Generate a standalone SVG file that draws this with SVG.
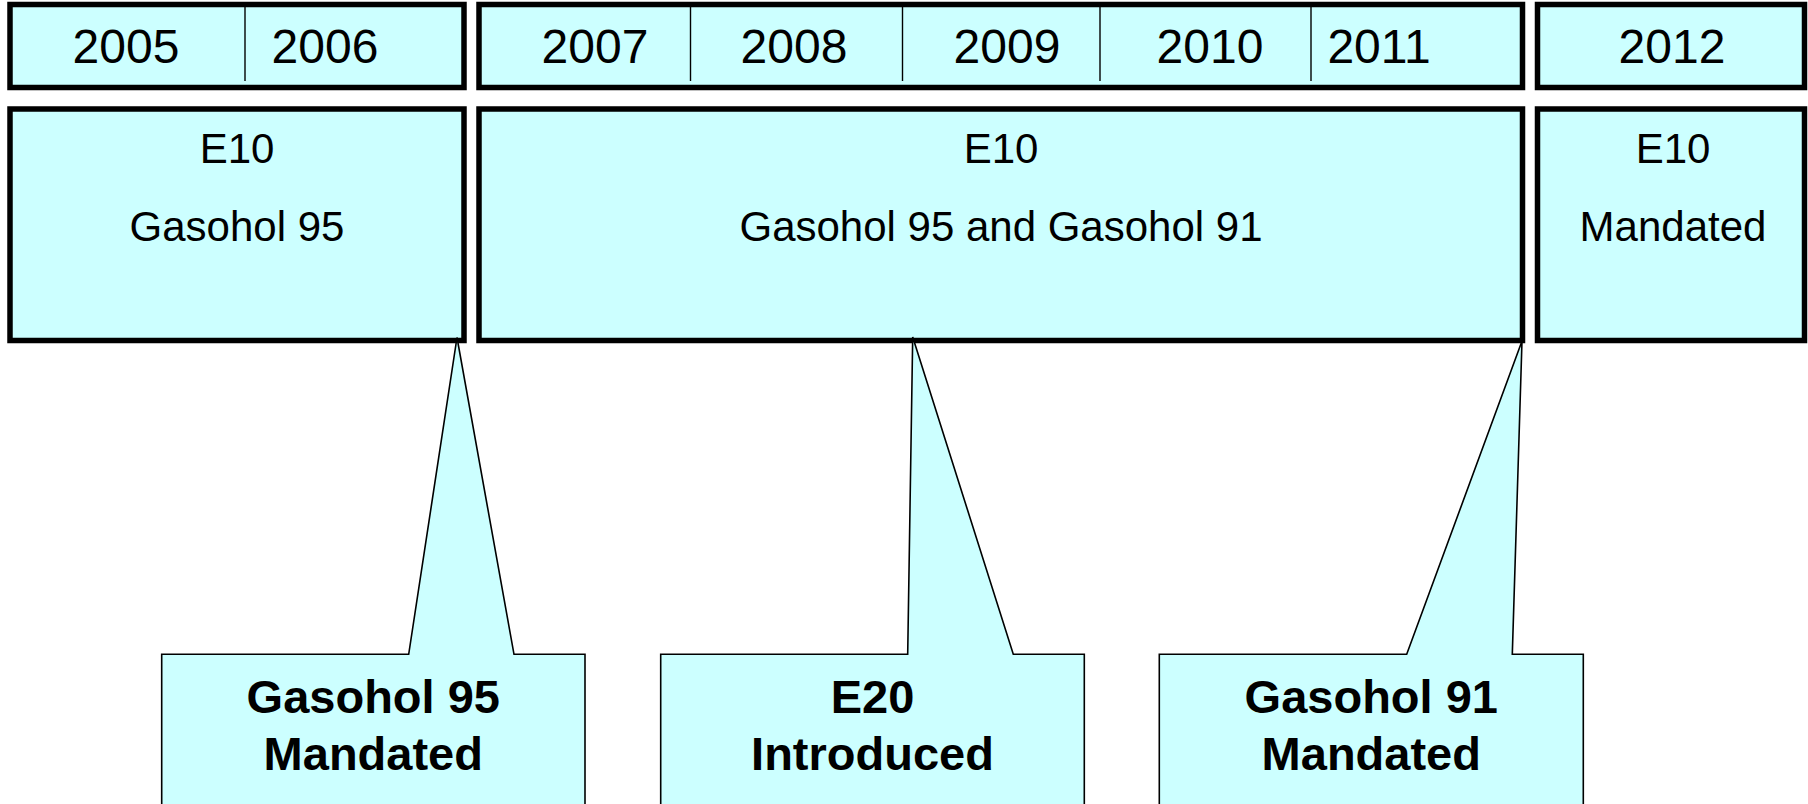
<svg xmlns="http://www.w3.org/2000/svg" width="1808" height="804" viewBox="0 0 1808 804">
<style>
.box{fill:#CCFFFF;stroke:#000;stroke-width:5.5}
.div{stroke:#000;stroke-width:1.4}
.call{fill:#CCFFFF;stroke:#000;stroke-width:1.6;stroke-linejoin:miter}
.yr{font-family:"Liberation Sans",Arial,sans-serif;font-size:48px;fill:#000}
.t{font-family:"Liberation Sans",Arial,sans-serif;font-size:42px;fill:#000;text-anchor:middle}
.b{font-family:"Liberation Sans",Arial,sans-serif;font-size:47px;font-weight:bold;fill:#000;text-anchor:middle}
</style>
<rect width="1808" height="804" fill="#fff"/>
<g id="years-2005-2006">
<rect class="box" x="10" y="4.5" width="454" height="83"/>
<line class="div" x1="245" y1="7" x2="245" y2="81"/>
<text class="yr" x="126" y="63" text-anchor="middle">2005</text>
<text class="yr" x="325" y="63" text-anchor="middle">2006</text>
</g>
<g id="years-2007-2011">
<rect class="box" x="479" y="4.5" width="1043.5" height="83"/>
<line class="div" x1="690.5" y1="7" x2="690.5" y2="81"/>
<line class="div" x1="902.5" y1="7" x2="902.5" y2="81"/>
<line class="div" x1="1100" y1="7" x2="1100" y2="81"/>
<line class="div" x1="1311" y1="7" x2="1311" y2="81"/>
<text class="yr" x="595" y="63" text-anchor="middle">2007</text>
<text class="yr" x="794" y="63" text-anchor="middle">2008</text>
<text class="yr" x="1007" y="63" text-anchor="middle">2009</text>
<text class="yr" x="1210" y="63" text-anchor="middle">2010</text>
<text class="yr" x="1379" y="63" text-anchor="middle">2011</text>
</g>
<g id="years-2012">
<rect class="box" x="1537.5" y="4.5" width="267" height="83"/>
<text class="yr" x="1672" y="63" text-anchor="middle">2012</text>
</g>
<g id="phase1">
<rect class="box" x="10" y="109" width="454" height="231.5"/>
<text class="t" x="237" y="163">E10</text>
<text class="t" x="237" y="241">Gasohol 95</text>
</g>
<g id="phase2">
<rect class="box" x="479" y="109" width="1043.5" height="231.5"/>
<text class="t" x="1001" y="163">E10</text>
<text class="t" x="1001" y="241">Gasohol 95 and Gasohol 91</text>
</g>
<g id="phase3">
<rect class="box" x="1537.5" y="109" width="267" height="231.5"/>
<text class="t" x="1673" y="163">E10</text>
<text class="t" x="1673" y="241">Mandated</text>
</g>
<g id="connectors">
<g id="callout-gasohol95">
<path class="call" d="M161.7,654.3 H408.7 L457,337.5 L514,654.3 H585 V830 H161.7 Z"/>
<text class="b" x="373.3" y="712.7">Gasohol 95</text>
<text class="b" x="373.3" y="770">Mandated</text>
</g>
<g id="callout-e20">
<path class="call" d="M660.7,654.3 H907.7 L912.7,337 L1013.3,654.3 H1084.3 V830 H660.7 Z"/>
<text class="b" x="872.5" y="712.7">E20</text>
<text class="b" x="872.5" y="770">Introduced</text>
</g>
<g id="callout-gasohol91">
<path class="call" d="M1159.3,654.3 H1406.7 L1522,341 L1512.3,654.3 H1583.3 V830 H1159.3 Z"/>
<text class="b" x="1371.3" y="712.7">Gasohol 91</text>
<text class="b" x="1371.3" y="770">Mandated</text>
</g>
</g>
</svg>
